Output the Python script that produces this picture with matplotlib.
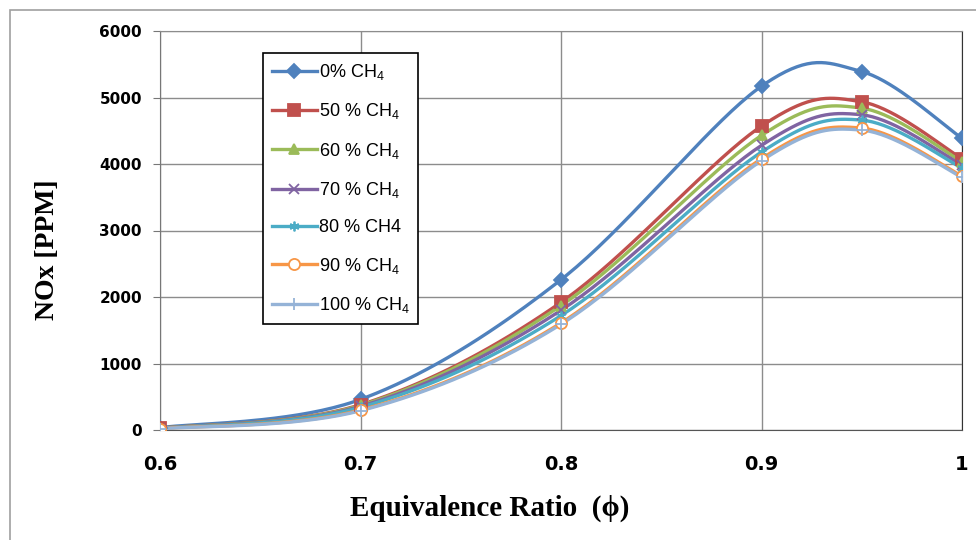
import numpy as np
import matplotlib
matplotlib.use("Agg")
import matplotlib.pyplot as plt
from matplotlib.lines import Line2D
from matplotlib.patches import Rectangle

plt.rcParams['mathtext.default'] = 'regular'

# data
phi = [0.6, 0.7, 0.8, 0.9, 0.95, 1.0]
nox_0 = [35, 460, 2260, 5170, 5390, 4385]
nox_50 = [25, 380, 1920, 4570, 4935, 4080]
nox_60 = [25, 370, 1870, 4430, 4840, 4035]
nox_70 = [22, 355, 1800, 4280, 4740, 3985]
nox_80 = [20, 340, 1720, 4180, 4660, 3940]
nox_90 = [20, 300, 1610, 4080, 4540, 3820]
nox_100 = [18, 290, 1590, 4050, 4510, 3800]

labels = ['0% CH$_4$', '50 % CH$_4$', '60 % CH$_4$', '70 % CH$_4$',
          '80 % CH4', '90 % CH$_4$', '100 % CH$_4$']
series = [nox_0, nox_50, nox_60, nox_70, nox_80, nox_90, nox_100]
colors = ['#4F81BD', '#C0504D', '#9BBB59', '#8064A2', '#4BACC6', '#F79646', '#95B3D7']
markers = ['D', 's', '^', 'x', (6, 2, 0), 'o', '+']


def smooth(xs, ys, sx=802 / 0.4, sy=399 / 6000, n=40):
    # excel-like smoothed line (bezier through the points)
    p = np.column_stack([np.array(xs) * sx, np.array(ys) * sy])
    out = []
    for i in range(len(p) - 1):
        p0 = p[i - 1] if i > 0 else p[i]
        p1, p2 = p[i], p[i + 1]
        p3 = p[i + 2] if i + 2 < len(p) else p[i + 1]
        c1 = p1 + (p2 - p0) / 6
        c2 = p2 - (p3 - p1) / 6
        t = np.linspace(0, 1, n)[:, None]
        b = (1 - t) ** 3 * p1 + 3 * (1 - t) ** 2 * t * c1 + 3 * (1 - t) * t ** 2 * c2 + t ** 3 * p2
        out.append(b)
    b = np.vstack(out)
    return b[:, 0] / sx, b[:, 1] / sy


fig = plt.figure(figsize=(9.76, 5.4), dpi=100)
fig.patches.append(Rectangle((10 / 976, -0.1), 1.2, 1.1 - 10 / 540, transform=fig.transFigure,
                             fill=False, edgecolor='#A0A0A0', lw=1.2, zorder=0))
ax = fig.add_axes([160 / 976, 1 - 430 / 540, 802 / 976, 399 / 540])

handles = []
for ys, lab, c, m in zip(series, labels, colors, markers):
    sxs, sys_ = smooth(phi, ys)
    ax.plot(sxs, sys_, color=c, lw=2.4, solid_capstyle='round', zorder=3)
    face = 'white' if m == 'o' else c
    ms = 8 if m in ('o', 's', '+') else 7
    ax.plot(phi, ys, ls='none', marker=m, color=c, mfc=face, mec=c, ms=ms, mew=1.3, zorder=4)
    handles.append(Line2D([], [], color=c, lw=2.4, marker=m, mfc=face, mec=c, ms=ms, mew=1.3, label=lab))

ax.set_xlim(0.6, 1.0)
ax.set_ylim(0, 6000)
ax.set_xticks([0.6, 0.7, 0.8, 0.9, 1.0])
ax.set_xticklabels(['0.6', '0.7', '0.8', '0.9', '1'])
ax.set_yticks(range(0, 6001, 1000))
ax.grid(True, color='#8C8C8C', lw=1)
ax.set_axisbelow(True)
ax.spines['top'].set_color('#8C8C8C')
ax.spines['left'].set_color('#777777')
ax.spines['right'].set_color('#333333')
ax.spines['bottom'].set_color('#555555')
ax.tick_params(axis='y', length=5, color='#777777', labelsize=11, pad=8)
ax.tick_params(axis='x', length=0, labelsize=14, pad=18)
for t in ax.get_xticklabels() + ax.get_yticklabels():
    t.set_fontweight('bold')
    t.set_family('DejaVu Sans')

fig.text(490 / 976, 1 - 508 / 540, 'Equivalence Ratio  (ϕ)', ha='center', va='center',
         fontsize=21, fontweight='bold', family=['Liberation Serif', 'DejaVu Serif'])
fig.text(48 / 976, 1 - 250 / 540, 'NOx [PPM]', ha='center', va='center', rotation=90,
         fontsize=20, fontweight='bold', family=['Liberation Serif', 'DejaVu Serif'])

leg = ax.legend(handles=handles, loc='upper left', bbox_to_anchor=(0.128, 0.945),
                borderaxespad=0, fancybox=False, framealpha=1, edgecolor='black',
                prop={'family': 'Liberation Sans', 'size': 13}, labelspacing=1.07,
                handlelength=2.5, handletextpad=0.1, borderpad=0.5)
leg.get_frame().set_linewidth(1.2)

fig.savefig('out.png', dpi=100)
